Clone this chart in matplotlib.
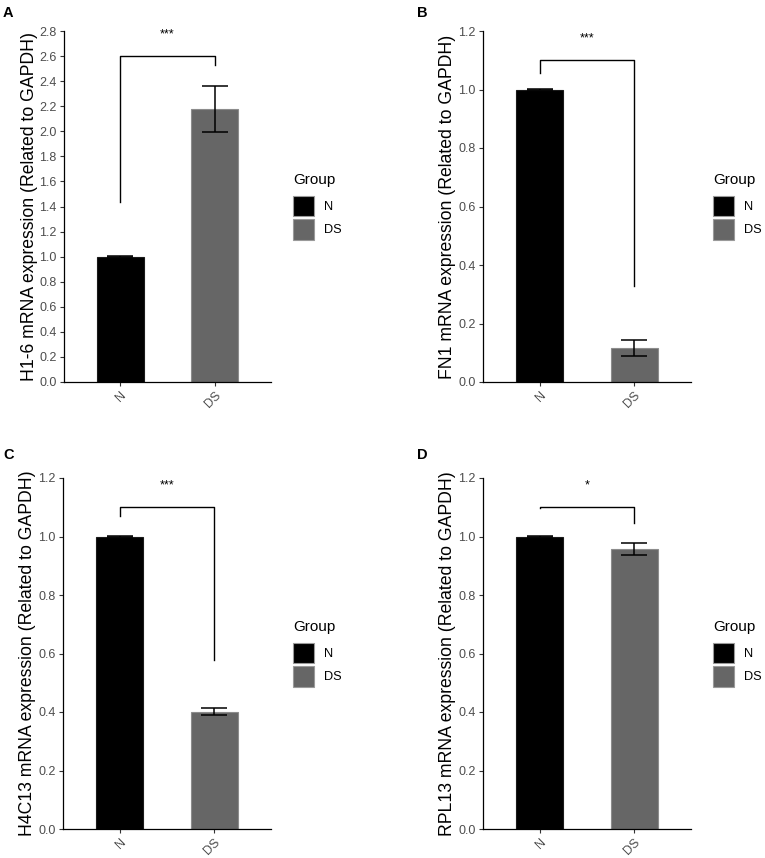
import matplotlib
matplotlib.use('Agg')
import matplotlib.pyplot as plt
import numpy as np

plt.rcParams['font.family'] = ['Liberation Sans', 'DejaVu Sans']

# data
groups = ['N', 'DS']
letters = ['A', 'B', 'C', 'D']
genes = ['H1-6', 'FN1', 'H4C13', 'RPL13']
means_A = [1.0, 2.18]
err_A = [0.002, 0.183]
means_B = [1.0, 0.116]
err_B = [0.001, 0.026]
means_C = [1.0, 0.401]
err_C = [0.001, 0.012]
means_D = [1.0, 0.957]
err_D = [0.001, 0.021]
ymax = [2.8, 1.2, 1.2, 1.2]
bracket_y = [2.6, 1.1, 1.1, 1.1]
leg_left = [1.436, 1.056, 1.069, 1.097]
leg_right = [2.53, 0.327, 0.579, 1.046]
star_y = [2.77, 1.175, 1.175, 1.175]
stars = ['***', '***', '***', '*']

means = [means_A, means_B, means_C, means_D]
errs = [err_A, err_B, err_C, err_D]
colors = ['#000000', '#666666']
edges = ['#1a1a1a', '#8c8c8c']

fig = plt.figure(figsize=(7.65, 8.58), dpi=100)
W, H = 765, 858
boxes = [(64, 31, 271, 382), (483, 31, 691, 382),
         (63, 478, 271, 829), (483, 478, 691, 829)]
letter_xy = [(3, 13), (417, 13), (3, 455), (417, 455)]

for i in range(4):
    l, t, r, b = boxes[i]
    ax = fig.add_axes([l / W, 1 - b / H, (r - l) / W, (b - t) / H])
    x = np.arange(1, 3)
    bars = ax.bar(x, means[i], width=0.5, color=colors, edgecolor=edges,
                  linewidth=0.8, zorder=2)
    ax.errorbar(x, means[i], yerr=errs[i], fmt='none', ecolor='black',
                elinewidth=1.1, capsize=9.7, capthick=1.1, zorder=3)
    ax.set_xlim(0.4, 2.6)
    ax.set_ylim(0, ymax[i])
    ax.set_yticks(np.round(np.arange(0, ymax[i] + 0.01, 0.2), 1))
    ax.yaxis.set_major_formatter(matplotlib.ticker.FormatStrFormatter('%.1f'))
    ax.set_xticks(x)
    ax.set_xticklabels(groups, rotation=45, ha='right', rotation_mode='anchor')
    ax.tick_params(axis='both', labelsize=9, colors='#333333', length=3.2,
                   width=0.8, labelcolor='#4d4d4d', pad=2)
    for s in ['top', 'right']:
        ax.spines[s].set_visible(False)
    for s in ['left', 'bottom']:
        ax.spines[s].set_linewidth(0.9)
    ax.set_ylabel(genes[i] + ' mRNA expression (Related to GAPDH)', fontsize=12.7)
    ax.yaxis.set_label_coords(-0.128, 0.5)

    # significance bracket
    ax.plot([1, 1, 2, 2], [leg_left[i], bracket_y[i], bracket_y[i], leg_right[i]],
            color='black', lw=1.0, clip_on=False)
    ax.text(1.5, star_y[i], stars[i], ha='center', va='center', fontsize=9)

    leg = ax.legend(bars, groups, title='Group', loc='center left',
                    bbox_to_anchor=(1.075, 0.5), frameon=False, fontsize=9.2,
                    title_fontsize=11, handlelength=1.65, handleheight=2.1,
                    labelspacing=0.2, handletextpad=0.75, borderpad=0)
    leg._legend_box.align = 'left'
    leg._legend_box.sep = 6
    for p in leg.get_patches():
        p.set_edgecolor('#9a9a9a')

    lx, ly = letter_xy[i]
    fig.text(lx / W, 1 - ly / H, letters[i], fontsize=10.5,
             fontweight='bold', ha='left', va='center')

fig.savefig('out.png', dpi=100)
